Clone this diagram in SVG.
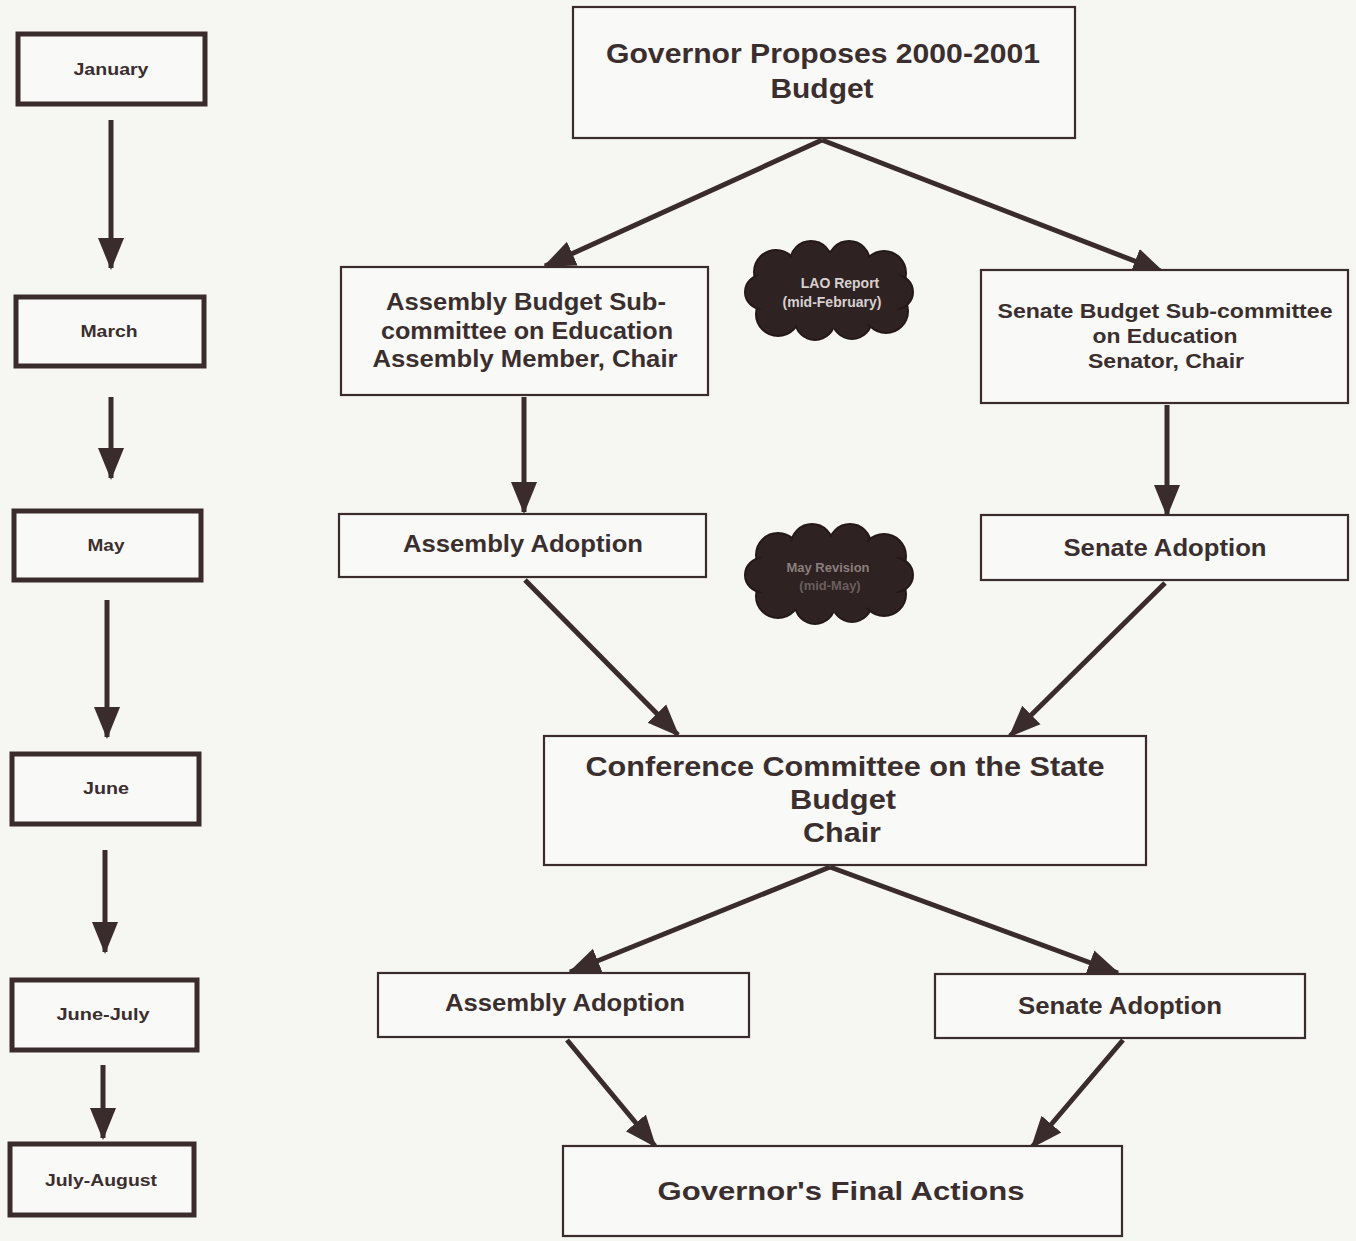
<svg xmlns="http://www.w3.org/2000/svg" width="1356" height="1241" viewBox="0 0 1356 1241">
<defs>
<style>
.bg{fill:#f6f6f3}
.box{fill:#f9f9f7;stroke:#3a2c2c;stroke-width:2.2}
.mbox{fill:#f9f9f7;stroke:#3a2c2c;stroke-width:5}
.t{font-family:"Liberation Sans",Arial,sans-serif;font-weight:bold;fill:#3a2e2e;text-anchor:middle}
.mt{font-family:"Liberation Sans",Arial,sans-serif;font-weight:bold;fill:#3a2e2e;text-anchor:middle;font-size:16px}
.c{stroke:#3a2c2c;stroke-width:5;fill:none;marker-end:url(#ah)}
.cloud{fill:#2f2222;stroke:#241818;stroke-width:2}
</style>
<marker id="ah" markerUnits="userSpaceOnUse" markerWidth="32" markerHeight="32" viewBox="0 0 32 32" refX="30" refY="16" orient="auto">
<path d="M0,3 L32,16 L0,29 Z" fill="#3a2c2c"/>
</marker>
</defs>
<rect class="bg" x="0" y="0" width="1356" height="1241"/>

<g id="connectors">
<line class="c" x1="111" y1="120" x2="111" y2="268"/>
<line class="c" x1="111" y1="397" x2="111" y2="478"/>
<line class="c" x1="107" y1="600" x2="107" y2="737"/>
<line class="c" x1="105" y1="850" x2="105" y2="952"/>
<line class="c" x1="103" y1="1065" x2="103" y2="1138"/>
<line class="c" x1="822" y1="140" x2="545" y2="266"/>
<line class="c" x1="822" y1="140" x2="1163" y2="272"/>
<line class="c" x1="524" y1="397" x2="524" y2="512"/>
<line class="c" x1="1167" y1="405" x2="1167" y2="515"/>
<line class="c" x1="525" y1="580" x2="678" y2="735"/>
<line class="c" x1="1165" y1="583" x2="1010" y2="736"/>
<line class="c" x1="830" y1="867" x2="570" y2="972"/>
<line class="c" x1="830" y1="867" x2="1118" y2="973"/>
<line class="c" x1="567" y1="1040" x2="655" y2="1146"/>
<line class="c" x1="1123" y1="1040" x2="1032" y2="1147"/>
</g>

<g id="m-january"><rect class="mbox" x="18" y="34" width="187" height="70"/><text class="mt" x="111" y="75" textLength="75" lengthAdjust="spacingAndGlyphs">January</text></g>
<g id="m-march"><rect class="mbox" x="16" y="297" width="188" height="69"/><text class="mt" x="109" y="337" textLength="57" lengthAdjust="spacingAndGlyphs">March</text></g>
<g id="m-may"><rect class="mbox" x="14" y="511" width="187" height="69"/><text class="mt" x="106" y="551" textLength="37" lengthAdjust="spacingAndGlyphs">May</text></g>
<g id="m-june"><rect class="mbox" x="12" y="754" width="187" height="70"/><text class="mt" x="106" y="794" textLength="46" lengthAdjust="spacingAndGlyphs">June</text></g>
<g id="m-junejuly"><rect class="mbox" x="12" y="980" width="185" height="70"/><text class="mt" x="103" y="1020" textLength="93" lengthAdjust="spacingAndGlyphs">June-July</text></g>
<g id="m-julyaug"><rect class="mbox" x="10" y="1144" width="184" height="71"/><text class="mt" x="101" y="1186" textLength="112" lengthAdjust="spacingAndGlyphs">July-August</text></g>

<g id="n-governor"><rect class="box" x="573" y="7" width="502" height="131"/>
<text class="t" x="823" y="63" font-size="27" textLength="434" lengthAdjust="spacingAndGlyphs">Governor Proposes 2000-2001</text>
<text class="t" x="822" y="98" font-size="27" textLength="103" lengthAdjust="spacingAndGlyphs">Budget</text></g>

<g id="n-asmsub"><rect class="box" x="341" y="267" width="367" height="128"/>
<text class="t" x="526" y="310" font-size="23" textLength="280" lengthAdjust="spacingAndGlyphs">Assembly Budget Sub-</text>
<text class="t" x="527" y="339" font-size="23" textLength="292" lengthAdjust="spacingAndGlyphs">committee on Education</text>
<text class="t" x="525" y="367" font-size="23" textLength="305" lengthAdjust="spacingAndGlyphs">Assembly Member, Chair</text></g>

<g id="n-sensub"><rect class="box" x="981" y="270" width="367" height="133"/>
<text class="t" x="1165" y="318" font-size="20" textLength="335" lengthAdjust="spacingAndGlyphs">Senate Budget Sub-committee</text>
<text class="t" x="1165" y="343" font-size="20" textLength="145" lengthAdjust="spacingAndGlyphs">on Education</text>
<text class="t" x="1166" y="368" font-size="20" textLength="156" lengthAdjust="spacingAndGlyphs">Senator, Chair</text></g>

<g id="cloud-lao">
<g class="cloud">
<circle cx="776" cy="272" r="22"/><circle cx="811" cy="262" r="21"/><circle cx="849" cy="262" r="21"/><circle cx="884" cy="273" r="22"/>
<circle cx="778" cy="314" r="22"/><circle cx="815" cy="320" r="20"/><circle cx="852" cy="319" r="20"/><circle cx="886" cy="311" r="22"/>
<circle cx="762" cy="292" r="17"/><circle cx="896" cy="292" r="17"/>
</g>
<ellipse cx="829" cy="291" rx="78" ry="38" fill="#2f2222"/>
<text class="t" x="840" y="288" font-size="14" style="fill:#d8d0d0">LAO Report</text>
<text class="t" x="832" y="307" font-size="14" style="fill:#d8d0d0">(mid-February)</text>
</g>

<g id="n-asmadopt"><rect class="box" x="339" y="514" width="367" height="63"/>
<text class="t" x="523" y="552" font-size="23" textLength="240" lengthAdjust="spacingAndGlyphs">Assembly Adoption</text></g>

<g id="n-senadopt"><rect class="box" x="981" y="515" width="367" height="65"/>
<text class="t" x="1165" y="556" font-size="23" textLength="203" lengthAdjust="spacingAndGlyphs">Senate Adoption</text></g>

<g id="cloud-may">
<g class="cloud">
<circle cx="778" cy="555" r="22"/><circle cx="812" cy="545" r="21"/><circle cx="850" cy="545" r="21"/><circle cx="884" cy="556" r="22"/>
<circle cx="778" cy="596" r="22"/><circle cx="815" cy="604" r="20"/><circle cx="852" cy="602" r="20"/><circle cx="884" cy="594" r="22"/>
<circle cx="762" cy="575" r="17"/><circle cx="896" cy="575" r="17"/>
</g>
<ellipse cx="829" cy="575" rx="76" ry="38" fill="#2f2222"/>
<text class="t" x="828" y="572" font-size="13" style="fill:#8a7e7e">May Revision</text>
<text class="t" x="830" y="590" font-size="13" style="fill:#6a5e5e">(mid-May)</text>
</g>

<g id="n-conf"><rect class="box" x="544" y="736" width="602" height="129"/>
<text class="t" x="845" y="776" font-size="27" textLength="519" lengthAdjust="spacingAndGlyphs">Conference Committee on the State</text>
<text class="t" x="843" y="809" font-size="27" textLength="106" lengthAdjust="spacingAndGlyphs">Budget</text>
<text class="t" x="842" y="842" font-size="27" textLength="78" lengthAdjust="spacingAndGlyphs">Chair</text></g>

<g id="n-asmadopt2"><rect class="box" x="378" y="973" width="371" height="64"/>
<text class="t" x="565" y="1011" font-size="23" textLength="240" lengthAdjust="spacingAndGlyphs">Assembly Adoption</text></g>

<g id="n-senadopt2"><rect class="box" x="935" y="974" width="370" height="64"/>
<text class="t" x="1120" y="1014" font-size="23" textLength="204" lengthAdjust="spacingAndGlyphs">Senate Adoption</text></g>

<g id="n-final"><rect class="box" x="563" y="1146" width="559" height="90"/>
<text class="t" x="841" y="1200" font-size="26" textLength="367" lengthAdjust="spacingAndGlyphs">Governor's Final Actions</text></g>
</svg>
